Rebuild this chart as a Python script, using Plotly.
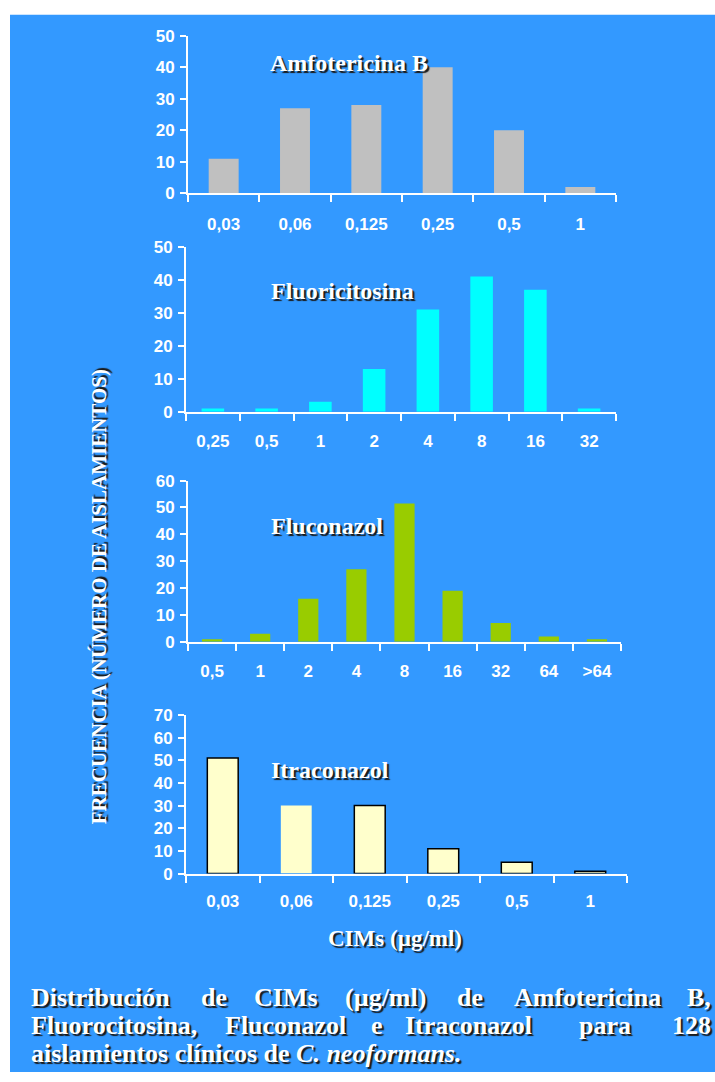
import plotly.graph_objects as go

W, H = 715, 1082

# ---------------- data ----------------
amfo_cats = ["0,03", "0,06", "0,125", "0,25", "0,5", "1"]
amfo_vals = [11, 27, 28, 40, 20, 2]

fluc_cats = ["0,25", "0,5", "1", "2", "4", "8", "16", "32"]
fluc_vals = [1, 1, 3, 13, 31, 41, 37, 1]

fluz_cats = ["0,5", "1", "2", "4", "8", "16", "32", "64", ">64"]
fluz_vals = [1, 3, 16, 27, 51.5, 19, 7, 2, 1]

itra_cats = ["0,03", "0,06", "0,125", "0,25", "0,5", "1"]
itra_vals = [51, 30, 30, 11, 5, 1]

panel_titles = ["Amfotericina B", "Fluoricitosina", "Fluconazol", "Itraconazol"]
y_title = "FRECUENCIA (NÚMERO DE AISLAMIENTOS)"
x_title = "CIMs (µg/ml)"

caption_line1 = ["Distribución", "de", "CIMs", "(µg/ml)", "de", "Amfotericina", "B,"]
caption_line2 = ["Fluorocitosina,", "Fluconazol", "e", "Itraconazol", "para", "128"]
caption_line3 = "aislamientos clínicos de <i>C. neoformans.</i>"

# ---------------- styles / layout ----------------
BG = "#3399FF"
WHITE = "#FFFFFF"
bar_colors = ["#C0C0C0", "#00FFFF", "#99CC00", "#FFFFCC"]
itra_line_w = [1.5, 0, 1.5, 1.5, 1.5, 1.5]

def fx(px):
    return px / W

def fy(py):
    # target screen pixel -> paper fraction (compensates page offset/scale)
    d = (py - 7.2) / 0.985
    d = min(max(d, 0), H)
    return 1 - d / H

# pixel boxes: (x0, x1, y_top, y_bottom)
boxes = [
    (188, 616, 34, 192),
    (186, 616, 245.7, 411),
    (188, 621, 480, 641.7),
    (186, 627, 715, 874),
]
yranges = [50, 50, 60, 70]
xlabel_standoff = [14, 13, 13, 11]
title_pos = [(268, 61), (269, 290), (269, 526), (269, 770)]

series = [
    (amfo_cats, amfo_vals),
    (fluc_cats, fluc_vals),
    (fluz_cats, fluz_vals),
    (itra_cats, itra_vals),
]

fig = go.Figure()
layout = dict(
    width=W, height=H,
    margin=dict(l=0, r=0, t=0, b=0),
    paper_bgcolor="white",
    plot_bgcolor="rgba(0,0,0,0)",
    showlegend=False,
    bargap=0.58,
)

tickfont = dict(family="Liberation Sans, Arial", size=17, color=WHITE, weight="bold")

for i, ((cats, vals), box) in enumerate(zip(series, boxes)):
    n = i + 1
    xa = "x" if n == 1 else f"x{n}"
    ya = "y" if n == 1 else f"y{n}"
    marker = dict(color=bar_colors[i], line=dict(width=0))
    if i == 3:
        marker["line"] = dict(width=itra_line_w, color="#000000")
    fig.add_trace(go.Bar(x=cats, y=vals, xaxis=xa, yaxis=ya, marker=marker,
                         hoverinfo="x+y"))
    x0, x1, yt, yb = box
    layout[f"xaxis{'' if n == 1 else n}"] = dict(
        domain=[fx(x0), fx(x1)], anchor=ya,
        type="category", range=[-0.5, len(cats) - 0.5],
        showline=True, linecolor=WHITE, linewidth=2,
        ticks="outside", tickson="boundaries", ticklen=7, tickwidth=2, tickcolor=WHITE,
        showgrid=False, zeroline=False,
        tickfont=tickfont, ticklabelstandoff=xlabel_standoff[i],
        fixedrange=True,
    )
    layout[f"yaxis{'' if n == 1 else n}"] = dict(
        domain=[fy(yb), fy(yt)], anchor=xa,
        range=[0, yranges[i]], dtick=10,
        showline=True, linecolor=WHITE, linewidth=2,
        ticks="outside", ticklen=6, tickwidth=2, tickcolor=WHITE,
        showgrid=False, zeroline=False,
        tickfont=tickfont, ticklabelstandoff=2,
        fixedrange=True,
    )

shadow = "2px 2px 1px #1a1a1a"
serif = "Liberation Serif, Times New Roman"
annotations = []
for t, (px, py) in zip(panel_titles, title_pos):
    annotations.append(dict(
        text=t, x=fx(px), y=fy(py), xref="paper", yref="paper",
        xanchor="left", yanchor="middle", showarrow=False,
        font=dict(family=serif, size=24, color=WHITE, weight="bold", shadow=shadow),
    ))

annotations.append(dict(
    text=y_title, x=fx(99), y=fy(597), xref="paper", yref="paper",
    xanchor="center", yanchor="middle", showarrow=False, textangle=-90,
    font=dict(family=serif, size=21, color=WHITE, weight="bold", shadow=shadow),
))
annotations.append(dict(
    text=x_title, x=fx(395), y=fy(939), xref="paper", yref="paper",
    xanchor="center", yanchor="middle", showarrow=False,
    font=dict(family=serif, size=23, color=WHITE, weight="bold", shadow=shadow),
))

cap_font = dict(family=serif, size=26, color=WHITE, weight="bold", shadow=shadow)
line1_x = [29, 199, 252, 343, 455, 512]
line2_x = [29, 223, 369, 403, 577]
lines_y = [998, 1026, 1054]

for w, px in zip(caption_line1[:-1], line1_x):
    annotations.append(dict(text=w, x=fx(px), y=fy(lines_y[0]), xref="paper", yref="paper",
                            xanchor="left", yanchor="middle", showarrow=False, font=cap_font))
annotations.append(dict(text=caption_line1[-1], x=fx(713), y=fy(lines_y[0]), xref="paper", yref="paper",
                        xanchor="right", yanchor="middle", showarrow=False, font=cap_font))
for w, px in zip(caption_line2[:-1], line2_x):
    annotations.append(dict(text=w, x=fx(px), y=fy(lines_y[1]), xref="paper", yref="paper",
                            xanchor="left", yanchor="middle", showarrow=False, font=cap_font))
annotations.append(dict(text=caption_line2[-1], x=fx(713), y=fy(lines_y[1]), xref="paper", yref="paper",
                        xanchor="right", yanchor="middle", showarrow=False, font=cap_font))
annotations.append(dict(text=caption_line3, x=fx(29), y=fy(lines_y[2]), xref="paper", yref="paper",
                        xanchor="left", yanchor="middle", showarrow=False, font=cap_font))

layout["annotations"] = annotations
layout["shapes"] = [dict(type="rect", xref="paper", yref="paper",
                         x0=fx(10), x1=fx(715), y0=fy(1077), y1=fy(13),
                         fillcolor=BG, line=dict(width=0), layer="below")]

fig.update_layout(**layout)
fig.write_html("out.html", config={"displayModeBar": False})
